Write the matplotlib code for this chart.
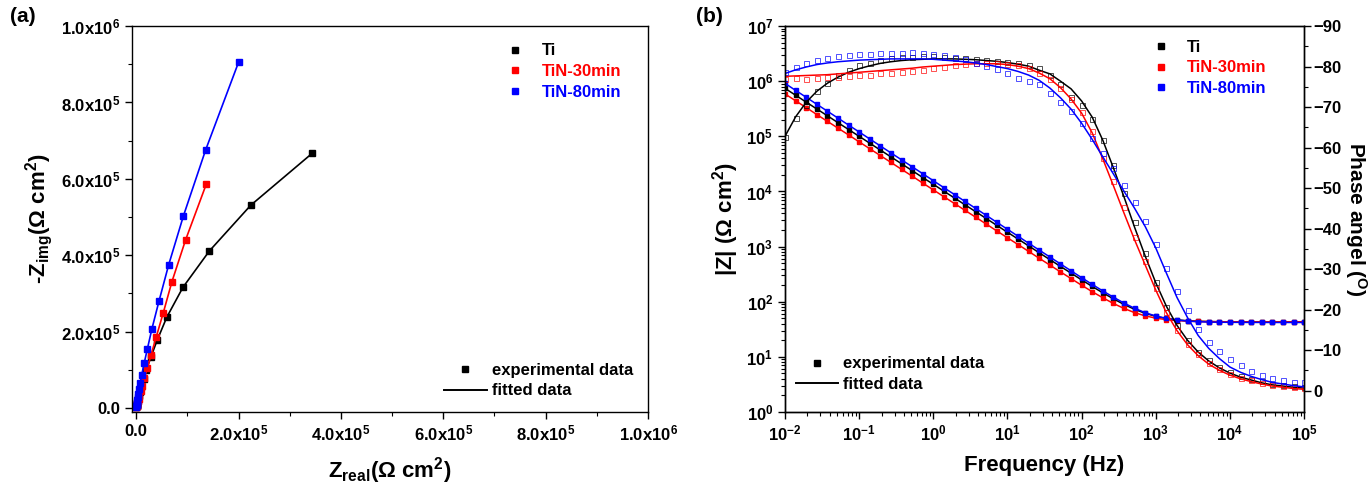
import matplotlib
matplotlib.use("Agg")
import numpy as np
import matplotlib.pyplot as plt
from matplotlib.ticker import FixedLocator, FuncFormatter, LogLocator, NullFormatter
from matplotlib.lines import Line2D

plt.rcParams["font.family"] = ["Liberation Sans", "DejaVu Sans"]
plt.rcParams["font.weight"] = "bold"
plt.rcParams["axes.labelweight"] = "bold"
plt.rcParams["mathtext.fontset"] = "custom"
plt.rcParams["mathtext.rm"] = "Liberation Sans:bold"
plt.rcParams["mathtext.it"] = "Liberation Sans:bold"
plt.rcParams["mathtext.bf"] = "Liberation Sans:bold"
plt.rcParams["mathtext.sf"] = "Liberation Sans"

series = ["Ti", "TiN-30min", "TiN-80min"]
colors = ["black", "red", "blue"]

# ---- (a) Nyquist data, Ohm cm2 ----
ti_zre = [3.44e5, 2.24e5, 1.43e5, 0.915e5, 0.60e5, 0.41e5, 0.29e5, 0.20e5, 0.145e5, 0.105e5,
          0.076e5, 0.057e5, 0.043e5, 0.033e5, 0.025e5, 0.019e5, 0.014e5, 0.011e5, 0.008e5, 0.006e5]
ti_zim = [6.67e5, 5.31e5, 4.11e5, 3.16e5, 2.38e5, 1.77e5, 1.34e5, 1.00e5, 0.75e5, 0.56e5,
          0.42e5, 0.32e5, 0.24e5, 0.18e5, 0.135e5, 0.10e5, 0.076e5, 0.057e5, 0.043e5, 0.032e5]
tin30_zre = [1.37e5, 0.966e5, 0.70e5, 0.53e5, 0.395e5, 0.29e5, 0.218e5, 0.16e5, 0.118e5, 0.087e5,
             0.064e5, 0.047e5, 0.035e5, 0.025e5, 0.019e5, 0.014e5, 0.010e5, 0.008e5, 0.006e5, 0.004e5]
tin30_zim = [5.86e5, 4.40e5, 3.31e5, 2.49e5, 1.87e5, 1.385e5, 1.035e5, 0.78e5, 0.585e5, 0.44e5,
             0.33e5, 0.248e5, 0.187e5, 0.14e5, 0.105e5, 0.079e5, 0.060e5, 0.045e5, 0.034e5, 0.025e5]
tin80_zre = [2.00e5, 1.356e5, 0.924e5, 0.636e5, 0.445e5, 0.31e5, 0.22e5, 0.157e5, 0.11e5, 0.08e5,
             0.06e5, 0.045e5, 0.033e5, 0.024e5, 0.018e5, 0.013e5, 0.010e5, 0.008e5, 0.006e5, 0.004e5]
tin80_zim = [9.05e5, 6.75e5, 5.03e5, 3.75e5, 2.79e5, 2.08e5, 1.55e5, 1.17e5, 0.87e5, 0.66e5,
             0.50e5, 0.37e5, 0.28e5, 0.21e5, 0.156e5, 0.117e5, 0.088e5, 0.066e5, 0.049e5, 0.037e5]

# ---- (b) Bode data ----
freq = [0.01, 0.0139, 0.0193, 0.0268, 0.0373, 0.0518, 0.072,
        0.1, 0.139, 0.193, 0.268, 0.373, 0.518, 0.72,
        1, 1.39, 1.93, 2.68, 3.73, 5.18, 7.2,
        10, 13.9, 19.3, 26.8, 37.3, 51.8, 72,
        100, 139, 193, 268, 373, 518, 720,
        1000, 1390, 1930, 2680, 3730, 5180, 7200,
        10000, 13900, 19300, 26800, 37300, 51800, 72000,
        100000]

ti_modz = [741000, 557000, 418000, 314000, 236000, 177000, 133000,
           100000, 75100, 56400, 42400, 31800, 23900, 17900,
           13500, 10100, 7610, 5720, 4290, 3230, 2420,
           1820, 1370, 1030, 772, 581, 437, 330,
           249, 189, 145, 113, 89.2, 72.8, 61.6,
           54.3, 49.7, 46.9, 45.2, 44.3, 43.7, 43.4,
           43.2, 43.1, 43.1, 43.0, 43.0, 43.0, 43.0,
           43.0]
tin30_modz = [588000, 442000, 332000, 249000, 187000, 141000, 106000,
              79400, 59600, 44800, 33700, 25200, 19000, 14200,
              10700, 8020, 6040, 4540, 3410, 2560, 1920,
              1445, 1088, 818, 614, 462, 348, 263,
              199, 152, 118, 93, 75.5, 63.4, 55.4,
              50.4, 47.3, 45.5, 44.4, 43.8, 43.5, 43.3,
              43.2, 43.1, 43.0, 43.0, 43.0, 43.0, 43.0,
              43.0]
tin80_modz = [912000, 682000, 511000, 382000, 286000, 214000, 160000,
              120000, 89500, 67000, 50100, 37500, 28100, 21000,
              15700, 11700, 8790, 6580, 4920, 3680, 2750,
              2060, 1540, 1150, 864, 647, 485, 364,
              273, 206, 157, 121, 94.5, 76.0, 63.3,
              55.0, 49.7, 46.5, 44.6, 43.4, 42.8, 42.5,
              42.3, 42.2, 42.1, 42.1, 42.0, 42.0, 42.0,
              42.0]

ti_phase_fit = [-62.8, -67.6, -71.2, -73.9, -75.9, -77.4, -78.6,
                -79.5, -80.2, -80.8, -81.2, -81.5, -81.7, -81.8,
                -81.9, -81.9, -81.9, -81.8, -81.7, -81.5, -81.3,
                -81.0, -80.6, -80.1, -79.1, -78.2, -76.4, -74.5,
                -71.5, -67.5, -61.8, -55.0, -47.8, -40.3, -33.2,
                -26.6, -20.8, -16.1, -12.4, -9.5, -7.3, -5.6,
                -4.3, -3.3, -2.6, -1.9, -1.4, -1.1, -0.8,
                -0.6]
tin30_phase_fit = [-77.6, -77.7, -77.8, -77.9, -78.0, -78.2, -78.4,
                   -78.6, -78.8, -79.0, -79.2, -79.4, -79.6, -79.9,
                   -80.1, -80.3, -80.5, -80.6, -80.7, -80.7, -80.7,
                   -80.5, -80.1, -79.5, -78.4, -77.0, -74.8, -72.0,
                   -68.5, -63.6, -57.2, -50.6, -43.8, -37.2, -31.0,
                   -24.8, -19.2, -14.8, -11.3, -8.6, -6.5, -5.0,
                   -3.8, -2.9, -2.2, -1.6, -1.1, -0.8, -0.5,
                   -0.3]
tin80_phase_fit = [-78.3, -79.2, -79.9, -80.5, -80.9, -81.2, -81.4,
                   -81.6, -81.7, -81.8, -81.9, -81.9, -81.9, -81.9,
                   -81.8, -81.6, -81.4, -81.2, -80.9, -80.5, -80.0,
                   -79.5, -78.8, -77.9, -76.6, -74.7, -72.3, -69.5,
                   -66.0, -62.0, -57.7, -53.5, -49.2, -45.0, -40.5,
                   -35.2, -29.0, -23.0, -18.0, -13.6, -10.4, -7.9,
                   -5.8, -4.5, -3.5, -2.7, -2.0, -1.6, -1.2,
                   -0.9]

ti_phase_exp = [-62.5, -67.4, -70.6, -73.9, -76.0, -77.8, -79.2,
                -80.3, -81.0, -81.6, -82.0, -82.3, -82.4, -82.6,
                -82.5, -82.4, -82.2, -82.0, -81.8, -81.6, -81.4,
                -81.2, -80.8, -80.5, -79.6, -77.8, -75.6, -72.6,
                -70.4, -67.0, -61.9, -55.8, -48.8, -41.5, -34.0,
                -26.8, -20.7, -16.3, -12.6, -9.6, -7.5, -5.8,
                -4.6, -3.6, -2.9, -2.3, -1.7, -1.4, -1.1,
                -0.9]
tin30_phase_exp = [-77.0, -77.2, -77.0, -77.3, -77.4, -77.5, -77.6,
                   -77.8, -78.0, -78.3, -78.4, -78.7, -78.9, -79.2,
                   -79.6, -80.0, -80.3, -80.6, -80.8, -80.9, -80.9,
                   -80.7, -80.3, -79.6, -78.5, -77.0, -74.8, -72.0,
                   -68.7, -64.0, -57.5, -51.8, -45.3, -38.0, -32.0,
                   -25.3, -19.3, -15.0, -11.6, -9.0, -6.9, -5.3,
                   -4.1, -3.2, -2.5, -1.9, -1.4, -1.1, -0.8,
                   -0.6]
tin80_phase_exp = [-78.6, -79.8, -80.8, -81.6, -82.0, -82.5, -82.8,
                   -83.0, -83.2, -83.3, -83.4, -83.4, -83.5, -83.4,
                   -83.2, -82.8, -82.4, -81.8, -81.0, -80.2, -79.3,
                   -78.4, -77.3, -76.5, -75.6, -73.4, -71.2, -69.0,
                   -66.0, -62.3, -58.6, -55.0, -50.8, -46.6, -41.8,
                   -36.2, -30.2, -24.6, -19.8, -15.3, -12.1, -9.7,
                   -7.7, -6.4, -4.9, -3.8, -3.0, -2.5, -2.1,
                   -2.0]

nyq_re = [ti_zre, tin30_zre, tin80_zre]
nyq_im = [ti_zim, tin30_zim, tin80_zim]
modz = [ti_modz, tin30_modz, tin80_modz]
ph_fit = [ti_phase_fit, tin30_phase_fit, tin80_phase_fit]
ph_exp = [ti_phase_exp, tin30_phase_exp, tin80_phase_exp]

fig = plt.figure(figsize=(13.71, 4.86), dpi=100)
ax1 = fig.add_axes([0.0963, 0.1523, 0.3764, 0.794])
ax2 = fig.add_axes([0.5726, 0.1523, 0.3786, 0.794])

TICK = 12
LAB = 16
OHM = "$\\mathsf{(\\Omega}$ cm$^{\\mathregular{2}}$$\\mathsf{)}$"


def sci_fmt(v, pos):
    if v == 0:
        return "0.0"
    e = int(np.floor(np.log10(abs(v)) + 1e-9))
    m = v / 10 ** e
    return "%.1fx10$^{\\mathregular{%d}}$" % (m, e)


def style_axis(ax):
    for sp in ax.spines.values():
        sp.set_linewidth(1.0)
    ax.tick_params(which="major", direction="out", length=5, width=1, labelsize=TICK,
                   top=False, right=False)
    ax.tick_params(which="minor", direction="out", length=3, width=0.8, top=False, right=False)


# ---------- (a) ----------
for i in range(3):
    ax1.plot(nyq_re[i], nyq_im[i], "-", color=colors[i], lw=1.2)
    ax1.plot(nyq_re[i], nyq_im[i], "s", color=colors[i], ms=4.5, mec=colors[i])
ax1.set_xlim(-8e3, 1.0e6)
ax1.set_ylim(-1.05e4, 1.0e6)
ticks = [0, 2e5, 4e5, 6e5, 8e5, 1e6]
minors = [1e5, 3e5, 5e5, 7e5, 9e5]
for axis in (ax1.xaxis, ax1.yaxis):
    axis.set_major_locator(FixedLocator(ticks))
    axis.set_minor_locator(FixedLocator(minors))
    axis.set_major_formatter(FuncFormatter(sci_fmt))
style_axis(ax1)
ax1.set_xlabel("Z$_{\\mathregular{real}}$" + OHM, fontsize=LAB, labelpad=8)
ax1.set_ylabel("-Z$_{\\mathregular{img}}$" + OHM, fontsize=LAB, labelpad=4)

h1 = [Line2D([], [], ls="none", marker="s", ms=5, color=c) for c in colors]
leg1 = ax1.legend(h1, series, loc="upper left", bbox_to_anchor=(0.726, 0.955), frameon=False,
                  fontsize=TICK, handlelength=1.0, handletextpad=1.1, borderpad=0,
                  borderaxespad=0, labelspacing=0.35, labelcolor=colors)
ax1.add_artist(leg1)
h2 = [Line2D([], [], ls="none", marker="s", ms=5, color="black"),
      Line2D([], [], ls="-", lw=1.4, color="black")]
ax1.legend(h2, ["experimental data", "fitted data"], loc="upper left",
           bbox_to_anchor=(0.605, 0.128), frameon=False, fontsize=TICK, handlelength=2.55,
           handletextpad=0.3, borderpad=0, borderaxespad=0, labelspacing=0.35)

# ---------- (b) ----------
ax3 = ax2.twinx()
for i in range(3):
    ax2.plot(freq, modz[i], "-", color=colors[i], lw=1.1)
    ax2.plot(freq, modz[i], "s", color=colors[i], ms=3.4, mec=colors[i])
    ax3.plot(freq, ph_fit[i], "-", color=colors[i], lw=1.1)
    ax3.plot(freq, ph_exp[i], "s", mfc="none", mec=colors[i], ms=3.6, mew=0.6, alpha=0.8)
ax2.set_xscale("log")
ax2.set_yscale("log")
ax2.set_xlim(1e-2, 1e5)
ax2.set_ylim(1, 1e7)
ax2.xaxis.set_major_locator(LogLocator(base=10, numticks=20))
ax2.xaxis.set_minor_locator(LogLocator(base=10, subs=np.arange(2, 10), numticks=20))
ax2.yaxis.set_major_locator(LogLocator(base=10, numticks=20))
ax2.yaxis.set_minor_locator(LogLocator(base=10, subs=np.arange(2, 10), numticks=20))
ax2.xaxis.set_minor_formatter(NullFormatter())
ax2.yaxis.set_minor_formatter(NullFormatter())
style_axis(ax2)
ax3.set_ylim(5.3, -90)
ax3.yaxis.set_major_locator(FixedLocator([0, -10, -20, -30, -40, -50, -60, -70, -80, -90]))
ax3.yaxis.set_minor_locator(FixedLocator([-5, -15, -25, -35, -45, -55, -65, -75, -85]))
ax3.tick_params(which="major", direction="out", length=5, width=1, labelsize=TICK, pad=2)
ax3.tick_params(which="minor", direction="out", length=3, width=0.8)
for sp in ax3.spines.values():
    sp.set_linewidth(1.0)
ax2.set_xlabel("Frequency (Hz)", fontsize=LAB, labelpad=8)
ax2.set_ylabel("|Z| " + OHM, fontsize=LAB, labelpad=4)
ax3.set_ylabel("Phase angel ($^{\\mathregular{O}}$)", fontsize=15, rotation=270,
               va="bottom", labelpad=1)

h3 = [Line2D([], [], ls="none", marker="s", ms=4, color=c) for c in colors]
leg3 = ax3.legend(h3, series, loc="upper left", bbox_to_anchor=(0.708, 0.965), frameon=False,
                  fontsize=TICK, handlelength=1.0, handletextpad=1.05, borderpad=0,
                  borderaxespad=0, labelspacing=0.35, labelcolor=colors)
ax3.add_artist(leg3)
h4 = [Line2D([], [], ls="none", marker="s", ms=4, color="black"),
      Line2D([], [], ls="-", lw=1.4, color="black")]
ax3.legend(h4, ["experimental data", "fitted data"], loc="upper left",
           bbox_to_anchor=(0.021, 0.144), frameon=False, fontsize=TICK, handlelength=2.55,
           handletextpad=0.3, borderpad=0, borderaxespad=0, labelspacing=0.35)

fig.text(0.007, 0.955, "(a)", fontsize=15, fontweight="bold")
fig.text(0.508, 0.955, "(b)", fontsize=15, fontweight="bold")

fig.savefig("out.png", dpi=100)
